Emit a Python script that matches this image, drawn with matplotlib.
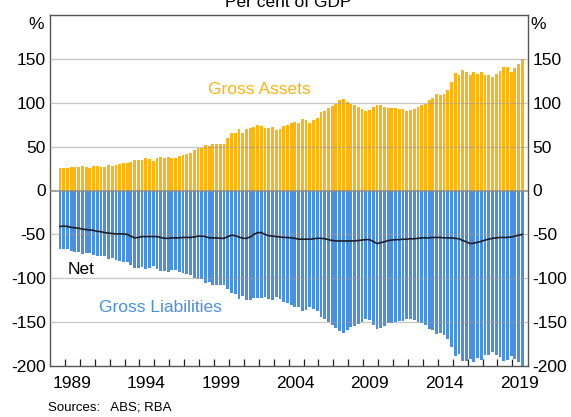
import numpy as np
import matplotlib
matplotlib.use("Agg")
from matplotlib import pyplot as plt
from matplotlib.ticker import FixedLocator, NullFormatter

# quarterly, Sep 1988 .. Sep 2019, per cent of GDP
START_YEAR = 1988.67
assets = [
    25.9, 25.9, 25.9, 27.1, 27.1, 27.1, 28.2, 27.1, 25.9, 28.2,
    28.2, 27.1, 27.1, 29.3, 28.2, 29.3, 30.5, 31.6, 31.6, 32.7,
    34.6, 34.6, 34.6, 36.9, 35.8, 33.5, 37.3, 38.0, 36.9, 38.0,
    36.9, 36.9, 39.2, 40.7, 41.8, 42.6, 46.7, 49.0, 49.0, 52.4,
    50.5, 53.5, 53.5, 53.5, 53.5, 59.6, 66.0, 66.0, 70.6, 66.0,
    70.6, 71.7, 72.5, 74.7, 74.0, 71.7, 71.7, 72.5, 68.7, 70.2,
    73.2, 74.7, 77.0, 78.1, 77.0, 81.9, 80.8, 77.0, 80.0, 82.3,
    89.9, 91.0, 93.6, 95.9, 98.9, 102.7, 104.6, 101.2, 98.6, 97.0,
    95.5, 93.3, 90.2, 91.4, 94.8, 97.0, 97.0, 95.5, 94.4, 94.4,
    94.4, 92.5, 93.3, 90.6, 91.4, 92.9, 94.8, 97.0, 98.9, 103.5,
    105.0, 110.3, 109.2, 110.3, 114.8, 123.9, 134.1, 131.1, 137.5, 135.3,
    131.9, 134.9, 132.2, 134.9, 131.5, 131.9, 129.6, 133.0, 136.4, 140.9,
    140.2, 135.3, 139.8, 144.3, 150.0,
]
liabilities = [
    -66.9, -66.4, -66.9, -69.1, -69.6, -70.1, -72.2, -71.6, -70.9, -73.7,
    -74.7, -74.1, -75.1, -77.8, -77.2, -78.8, -80.0, -81.1, -81.6, -84.7,
    -88.6, -88.1, -87.1, -89.4, -88.3, -86.0, -89.8, -91.5, -91.4, -92.5,
    -90.9, -90.9, -93.2, -94.2, -95.3, -96.1, -99.7, -101.0, -101.0, -104.9,
    -104.5, -107.5, -107.5, -108.0, -108.0, -112.1, -117.0, -117.5, -123.6, -120.5,
    -125.1, -124.7, -122.5, -122.7, -122.0, -121.7, -123.2, -124.5, -121.2, -123.2,
    -126.7, -128.2, -131.0, -132.6, -132.5, -137.4, -136.3, -132.5, -135.0, -136.8,
    -144.4, -146.0, -149.6, -152.9, -156.4, -160.2, -162.1, -158.7, -156.1, -154.5,
    -152.5, -149.8, -146.2, -147.4, -152.8, -157.5, -156.5, -154.0, -151.4, -150.9,
    -150.4, -148.5, -148.8, -146.1, -146.4, -147.9, -149.3, -151.0, -152.9, -157.5,
    -158.5, -163.8, -162.7, -164.3, -168.8, -177.9, -188.6, -186.1, -194.5, -193.8,
    -192.4, -194.9, -191.2, -192.9, -188.0, -187.4, -184.1, -187.0, -189.9, -194.4,
    -193.7, -188.3, -191.8, -195.3, -200.0,
]
net = [
    -41.0, -40.5, -41.0, -42.0, -42.5, -43.0, -44.0, -44.5, -45.0, -45.5,
    -46.5, -47.0, -48.0, -48.5, -49.0, -49.5, -49.5, -49.5, -50.0, -52.0,
    -54.0, -53.5, -52.5, -52.5, -52.5, -52.5, -52.5, -53.5, -54.5, -54.5,
    -54.0, -54.0, -54.0, -53.5, -53.5, -53.5, -53.0, -52.0, -52.0, -52.5,
    -54.0, -54.0, -54.0, -54.5, -54.5, -52.5, -51.0, -51.5, -53.0, -54.5,
    -54.5, -53.0, -50.0, -48.0, -48.0, -50.0, -51.5, -52.0, -52.5, -53.0,
    -53.5, -53.5, -54.0, -54.5, -55.5, -55.5, -55.5, -55.5, -55.0, -54.5,
    -54.5, -55.0, -56.0, -57.0, -57.5, -57.5, -57.5, -57.5, -57.5, -57.5,
    -57.0, -56.5, -56.0, -56.0, -58.0, -60.5, -59.5, -58.5, -57.0, -56.5,
    -56.0, -56.0, -55.5, -55.5, -55.0, -55.0, -54.5, -54.0, -54.0, -54.0,
    -53.5, -53.5, -53.5, -54.0, -54.0, -54.0, -54.5, -55.0, -57.0, -58.5,
    -60.5, -60.0, -59.0, -58.0, -56.5, -55.5, -54.5, -54.0, -53.5, -53.5,
    -53.5, -53.0, -52.0, -51.0, -50.0,
]
year_labels = ["1989", "1994", "1999", "2004", "2009", "2014", "2019"]
y_ticks = [-200, -150, -100, -50, 0, 50, 100, 150]

ORANGE = "#FFB511"
BLUE = "#4A90E0"
FONT = "Liberation Sans"

plt.rcParams["font.family"] = [FONT, "DejaVu Sans"]
plt.rcParams["font.size"] = 12.5
plt.rcParams["axes.unicode_minus"] = False

x = START_YEAR + 0.25 * np.arange(len(assets))

fig = plt.figure(figsize=(5.71, 4.17), dpi=100)
ax = fig.add_axes([50 / 571, 51 / 417, 478 / 571, 351 / 417])

ax.bar(x, assets, width=0.19, color=ORANGE, linewidth=0, zorder=2)
ax.bar(x, liabilities, width=0.19, color=BLUE, linewidth=0, zorder=2)
ax.plot(x, net, color="#1e1e2a", lw=1.2, zorder=4)

for yv in y_ticks:
    if yv == 0:
        ax.axhline(0, color="#8a8a8a", lw=1.1, zorder=3)
    elif yv != -200:
        ax.axhline(yv, color="#9a9a9a", lw=0.9, alpha=0.55, zorder=3)

ax.set_xlim(1988.0, 2020.05)
ax.set_ylim(-200, 200)

ax.set_yticks(y_ticks)
ax.tick_params(axis="y", length=0, pad=3, labelright=True, right=False)

ax.xaxis.set_major_locator(FixedLocator([int(y) + 0.45 for y in year_labels]))
ax.set_xticklabels(year_labels)
ax.xaxis.set_minor_locator(FixedLocator(list(range(1989, 2020))))
ax.xaxis.set_minor_formatter(NullFormatter())
ax.tick_params(axis="x", which="major", length=0, pad=7)
ax.tick_params(axis="x", which="minor", direction="in", length=5, width=0.9, color="#222222")

for sp in ax.spines.values():
    sp.set_color("#555555")
    sp.set_linewidth(1.0)

ax.text(-0.012, 0.995, "%", transform=ax.transAxes, ha="right", va="top")
ax.text(1.006, 0.995, "%", transform=ax.transAxes, ha="left", va="top")

ax.text(2002.05, 115, "Gross Assets", color=ORANGE, ha="center", va="center")
ax.text(1995.4, -133, "Gross Liabilities", color=BLUE, ha="center", va="center")
ax.text(1990.1, -90, "Net", color="black", ha="center", va="center")

fig.text(0.5 + 0.004, 1.0 - 7 / 417, "Per cent of GDP", ha="center", va="baseline")
fig.text(48 / 571, 4 / 417, "Sources:   ABS; RBA", fontsize=9.5, ha="left", va="bottom")

fig.savefig("out.png", dpi=100)
